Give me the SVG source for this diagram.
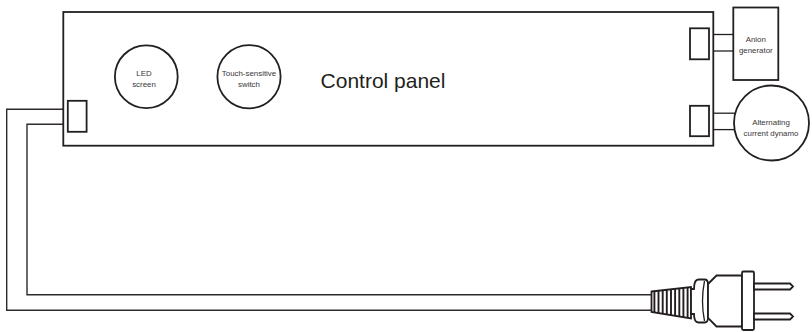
<svg xmlns="http://www.w3.org/2000/svg" width="812" height="332" viewBox="0 0 812 332">
  <style>
    .outline { fill: #ffffff; stroke: #231f20; stroke-width: 1.8; }
    .thin { fill: none; stroke: #231f20; stroke-width: 1.3; }
    .wire { fill: none; stroke: #2e2a2b; stroke-width: 1.4; }
    .rib { stroke: #231f20; stroke-width: 1.9; }
    .small { font-family: "Liberation Sans", Arial, sans-serif; font-size: 7.9px; fill: #3a3637; text-anchor: middle; }
    .title { font-family: "Liberation Sans", Arial, sans-serif; font-size: 21px; fill: #231f20; text-anchor: middle; }
  </style>
  <defs>
    <clipPath id="sleeveClip">
      <polygon points="651.5,291.5 691,287 691,318.5 651.5,312"/>
    </clipPath>
  </defs>

  <rect width="812" height="332" fill="#ffffff"/>

  <!-- cables and short leads -->
  <g id="connectors">
    <polyline class="wire" points="68,109.3 6.7,109.3 6.7,310.2 652,310.2"/>
    <polyline class="wire" points="68,124.3 27,124.3 27,294.8 652,294.8"/>
    <line class="thin" x1="709" y1="34.5" x2="733.5" y2="34.5"/>
    <line class="thin" x1="709" y1="51" x2="733.5" y2="51"/>
    <line class="thin" x1="709" y1="113.2" x2="735" y2="113.2"/>
    <line class="thin" x1="709" y1="129.6" x2="734" y2="129.6"/>
  </g>

  <!-- main housing -->
  <g id="control-panel">
    <rect class="outline" x="63.3" y="12" width="650" height="133.7" fill="none"/>
    <text class="title" x="383" y="88.3">Control panel</text>
  </g>

  <g id="led-screen">
    <circle class="outline" cx="146.3" cy="76.7" r="31.4"/>
    <text class="small" x="144" y="75.5">LED</text>
    <text class="small" x="144" y="86.5">screen</text>
  </g>

  <g id="touch-switch">
    <circle class="outline" cx="249" cy="76.7" r="31.6"/>
    <text class="small" x="249" y="75.5">Touch-sensitive</text>
    <text class="small" x="249" y="86.5">switch</text>
  </g>

  <g id="power-port">
    <rect class="outline" x="67.8" y="100.8" width="18.8" height="31"/>
  </g>

  <g id="anion-port">
    <rect class="outline" x="690" y="28.3" width="19" height="31"/>
  </g>

  <g id="dynamo-port">
    <rect class="outline" x="690" y="105.8" width="19" height="30.4"/>
  </g>

  <g id="anion-generator">
    <rect class="outline" x="733.3" y="7.5" width="45" height="72.5"/>
    <text class="small" x="755.8" y="41.5">Anion</text>
    <text class="small" x="755.8" y="52.5">generator</text>
  </g>

  <g id="dynamo">
    <circle class="outline" cx="771.5" cy="123" r="37.5"/>
    <text class="small" x="771" y="125.3">Alternating</text>
    <text class="small" x="771" y="136.2">current dynamo</text>
  </g>

  <!-- mains plug -->
  <g id="plug">
    <polygon class="outline" points="651.5,291.5 691,287 691,318.5 651.5,312"/>
    <g clip-path="url(#sleeveClip)">
      <line class="rib" x1="654.4" y1="284" x2="654.4" y2="322"/>
      <line class="rib" x1="658.5" y1="284" x2="658.5" y2="322"/>
      <line class="rib" x1="662.7" y1="284" x2="662.7" y2="322"/>
      <line class="rib" x1="666.8" y1="284" x2="666.8" y2="322"/>
      <line class="rib" x1="671" y1="284" x2="671" y2="322"/>
      <line class="rib" x1="675.1" y1="284" x2="675.1" y2="322"/>
      <line class="rib" x1="679.3" y1="284" x2="679.3" y2="322"/>
      <line class="rib" x1="683.4" y1="284" x2="683.4" y2="322"/>
      <line class="rib" x1="687.6" y1="284" x2="687.6" y2="322"/>
    </g>
    <path class="outline" d="M691,289 L694,289 Q694,279.5 698.5,279.5 L704.5,279.5 Q708,279.5 708,284 L708,318 Q708,322.5 704.5,322.5 L698.5,322.5 Q694,322.5 694,314 L691,314 Z"/>
    <path class="thin" d="M704.5,281 Q700.5,301 704.5,321"/>
    <path class="outline" d="M708,284 L716.5,275.5 L742,275.5 L742,326.5 L716.5,326.5 L708,318 Z"/>
    <rect class="outline" x="742" y="271.5" width="12" height="58.5" rx="1.5"/>
    <path class="outline" d="M754,283.5 L790,283.5 L793,286.5 L790,289.5 L754,289.5 Z"/>
    <path class="outline" d="M754,313.5 L790,313.5 L793,316.5 L790,319.5 L754,319.5 Z"/>
  </g>
</svg>
